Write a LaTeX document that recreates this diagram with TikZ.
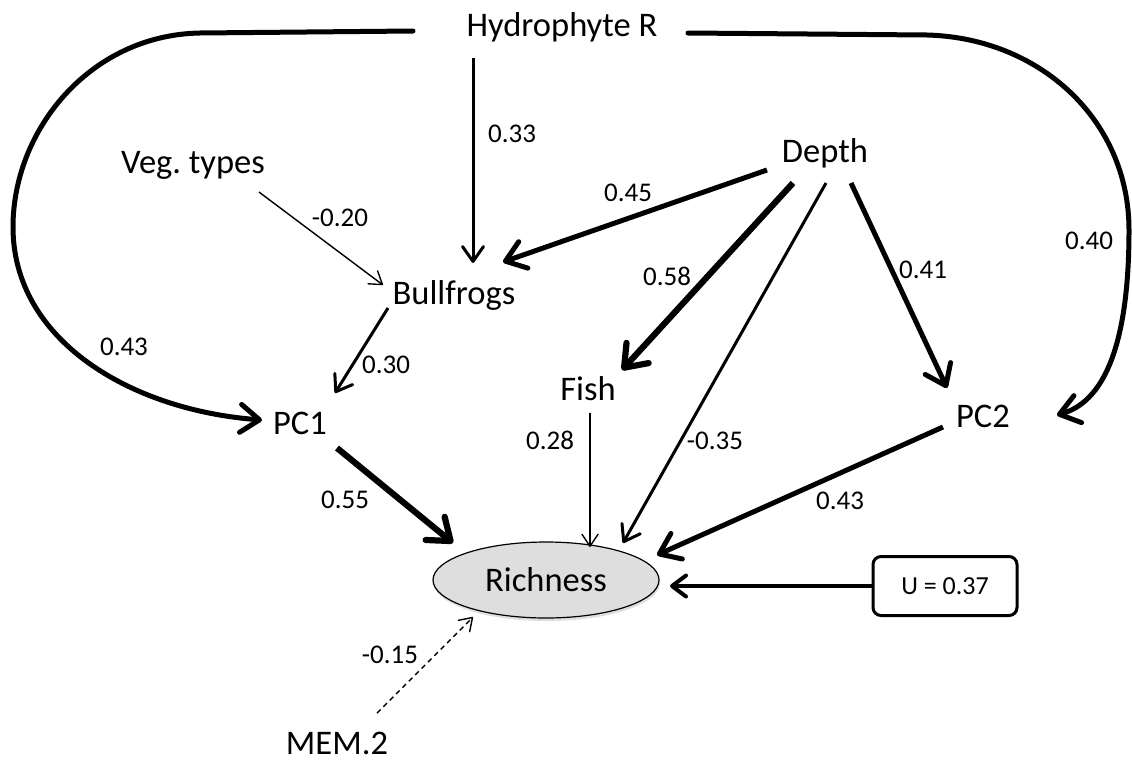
\documentclass[tikz,border=0pt]{standalone}
\usepackage{fontspec}
\setmainfont{Carlito}
\usetikzlibrary{arrows.meta,shapes.geometric,shadows}

\definecolor{richfill}{RGB}{222,222,222}

\begin{document}
\frenchspacing
\begin{tikzpicture}[x=1pt,y=-1pt,
  var/.style={font=\fontsize{34.5}{40}\selectfont, inner sep=0pt},
  coef/.style={font=\fontsize{27}{32}\selectfont, inner sep=0pt},
  pthin/.style={line width=1.4pt, -{Straight Barb[length=12pt,width=16pt,round]}},
  pmid/.style={line width=3pt, -{Straight Barb[length=15pt,width=21pt,round]}},
  pbold/.style={line width=5pt, -{Straight Barb[length=19pt,width=28pt,round]}},
  pheavy/.style={line width=6.2pt, -{Straight Barb[length=20pt,width=30pt,round]}},
  pcurve/.style={line width=5pt, line cap=round, -{Straight Barb[length=19pt,width=28pt,round]}},
  pu/.style={line width=4pt, -{Straight Barb[length=14pt,width=21pt,round]}},
  pdash/.style={line width=1.4pt, dash pattern=on 5pt off 4pt, -{Straight Barb[length=12pt,width=16pt,round]}}]

\fill[white] (0,0) rectangle (1132,763);
\useasboundingbox (0,0) rectangle (1132,763);

% variables
\node[var] (hyd) at (562,27) {Hydrophyte R};
\node[var] (veg) at (193,165) {Veg. types};
\node[var] (depth) at (825,153) {Depth};
\node[var] (bf) at (454,295) {Bullfrogs};
\node[var] (fish) at (588,389) {Fish};
\node[var] (pc1) at (300,423) {PC1};
\node[var] (pc2) at (983,416) {PC2};
\node[var, ellipse, draw, fill=richfill, line width=1.2pt,
      minimum width=226pt, minimum height=76pt,
      drop shadow={shadow xshift=1pt, shadow yshift=-3pt, opacity=0.25}] (rich) at (546,580) {Richness};
\node[var, font=\fontsize{26}{30}\selectfont, draw, line width=3pt, rounded corners=8pt,
      minimum width=144pt, minimum height=59pt] (u) at (945,586) {U = 0.37};
\node[var] (mem) at (337,743) {MEM.2};

% paths
\draw[pmid]   ([shift={(-89,31)}]hyd.center)  -- ([shift={(19,-32)}]bf.center);
\draw[pbold]  ([shift={(-58,17)}]depth.center) -- ([shift={(49,-33)}]bf.center);
\draw[pthin]  ([shift={(66,27)}]veg.center)   -- ([shift={(-71,-10)}]bf.center);
\draw[pmid]   ([shift={(-66,13)}]bf.center)   -- ([shift={(35,-30)}]pc1.center);
\draw[pheavy] ([shift={(-32,30)}]depth.center) -- ([shift={(34,-19)}]fish.center);
\draw[pmid]   ([shift={(1,30)}]depth.center)  -- ([shift={(77,-37)}]rich.center);
\draw[pbold]  ([shift={(26,30)}]depth.center) -- ([shift={(-36,-28)}]pc2.center);
\draw[pthin]  ([shift={(2,24)}]fish.center)   -- ([shift={(44,-33)}]rich.center);
\draw[pheavy] ([shift={(37,25)}]pc1.center)   -- ([shift={(-93,-37)}]rich.center);
\draw[pbold]  ([shift={(-40,11)}]pc2.center)  -- ([shift={(111,-25)}]rich.center);
\draw[pu]     (u.west) -- ([shift={(124,6)}]rich.center);
\draw[pdash]  ([shift={(40,-30)}]mem.center)  -- ([shift={(-73,37)}]rich.center);

% long curved paths from Hydrophyte R
\draw[pcurve] ([shift={(-149,4)}]hyd.center) -- (200,33)
  .. controls (90,35) and (13,130) .. (13,227)
  .. controls (13,340) and (130,410) .. ([shift={(-38,-3)}]pc1.center);
\draw[pcurve] ([shift={(126,6)}]hyd.center) -- (927,35)
  .. controls (1040,38) and (1129,120) .. (1129,230)
  .. controls (1129,330) and (1110,400) .. ([shift={(74,-1)}]pc2.center);

% coefficients
\node[coef] (c1)  at (512,134) {0.33};
\node[coef] (c2)  at (628,193) {0.45};
\node[coef] (c3)  at (667,276) {0.58};
\node[coef] (c4)  at (340,218) {-0.20};
\node[coef] (c5)  at (124,347) {0.43};
\node[coef] (c6)  at (386,365) {0.30};
\node[coef] (c7)  at (923,270) {0.41};
\node[coef] (c8)  at (1089,241) {0.40};
\node[coef] (c9)  at (550,440) {0.28};
\node[coef] (c10) at (715,441) {-0.35};
\node[coef] (c11) at (345,500) {0.55};
\node[coef] (c12) at (840,501) {0.43};
\node[coef] (c13) at (390,655) {-0.15};
\end{tikzpicture}
\end{document}
